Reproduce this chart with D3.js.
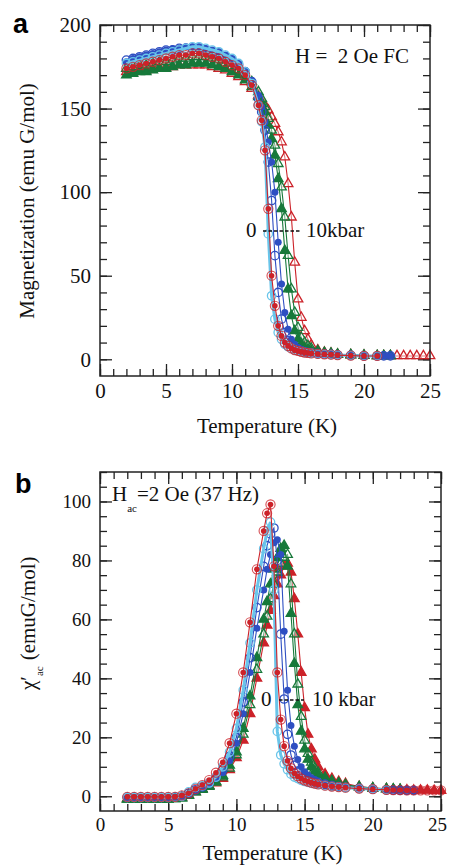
<!DOCTYPE html>
<html>
<head>
<meta charset="utf-8">
<script src="https://cdn.jsdelivr.net/npm/d3@7"></script>
<style>
  body { margin: 0; background: #fff; }
  svg text { font-family: "Liberation Serif", "Times New Roman", serif; }
</style>
</head>
<body>
<div id="chart"></div>
<script>
// temperature grid (K), shared by both panels
const temps = [2,2.5,3,3.5,4,4.5,5,5.5,6,6.5,7,7.5,8,8.5,9,9.5,10,10.5,11,11.5,12,12.25,12.5,12.75,13,13.25,13.5,13.75,14,14.25,14.5,14.75,15,15.25,15.5,15.75,16,16.5,17,17.5,18,19,20,21,21.5,22,22.5,23,23.5,24,24.5,25];

// panel a : FC magnetization (emu G/mol), one array per pressure run
const magLightBlue = [177,178,179,180,181,182,183,184,185,186,187,187,186,185,184,182,180,177,172,165,152,142,127,75,38,24,16,12,9,7.5,6.5,5.5,5,4.5,4,3.8,3.5,3.2,3,2.8,2.5, 2.2,2,2,null,null,null,null,null,null,null,null];
const magRedCirc  = [174,175,176,177,178,179,180,181,182,182,183,183,182,181,180,178,176,174,170,164,152,143,125,90,50,32,20,14,10,8,6.5,5.5,5,4.5,4,3.8,3.5,3.2,3,2.8,2.5, 2.2,2,2,null,null,null,null,null,null,null,null];
const magBlueOpen = [179,180,181,182,183,184,185,185,186,186,186,186,185,184,183,181,179,176,172,166,156,148,137,118,95,62,40,24,16,11,8.5,7,6,5,4.5,4,3.8,3.4,3.1,2.9,2.6, 2.3,2.1,2,2,2,null,null,null,null,null,null];
const magBlueFill = [178,180,181,182,183,184,185,186,186,187,187,187,186,185,184,182,180,177,173,167,158,151,142,130,118,100,70,45,28,18,12,9,7,6,5,4.5,4,3.5,3.2,3,2.7, 2.4,2.2,2,2,2,null,null,null,null,null,null];
const magGreenFill = [170,171,172,172,173,174,174,175,176,176,177,177,177,176,175,174,172,170,167,163,157,153,148,140,132,122,108,90,65,42,26,17,12,9,7,6,5,4,3.5,3.1,2.8, 2.5,2.2,2,2,2,null,null,null,null,null,null];
const magGreenOpen = [174,175,176,176,177,178,178,179,180,180,181,181,181,180,179,177,175,173,170,166,160,156,151,144,137,128,117,103,85,62,42,28,19,13,10,8,6.5,5,4,3.5,3, 2.6,2.3,2.1,2,2,null,null,null,null,null,null];
const magRedTri   = [172,172,173,173,174,174,175,175,176,176,176,176,176,175,174,173,171,169,166,162,158,155,152,149,145,141,136,130,121,105,85,58,36,25,17,12,8.5,5.5,4.2,3.5,3, 2.6,2.3,2.1,2,2,2,2,2,2,2,2];

// panel b : ac susceptibility chi' (emuG/mol)
const chiLightBlue = [-0.4,-0.4,-0.4,-0.4,-0.4,-0.4,-0.4,-0.3,0,1.5,3,3.5,4.5,6.5,10,15,23,36,52,70,84,90,93,70,22,14,11,9,7.5,6.5,6,5.4,5,4.7,4.4,4.2,4,3.6,3.3,3.1,2.9, 2.6,2.4,2.2,null,null,null,null,null,null,null,null];
const chiRedCirc  = [-0.2,-0.2,-0.2,-0.2,-0.2,-0.2,-0.2,-0.2,0.3,1,2.5,3.8,5.5,8,11.5,18,28,42,59,77,90,96,99,78,42,26,17,12,9.5,7.8,6.8,6,5.4,5,4.6,4.3,4,3.6,3.3,3.1,2.9, 2.6,2.4,2.2,2.1,2.1,2,2,2,2,2,2];
const chiBlueOpen = [-0.4,-0.4,-0.4,-0.4,-0.4,-0.4,-0.4,-0.3,0,1,2.2,3.2,4.5,6.5,9,13.5,20,32,47,64,78,85,89,91,80,55,33,21,14,10.5,8.5,7.2,6.3,5.7,5.2,4.8,4.5,4,3.6,3.3,3, 2.7,2.4,2.2,2.1,2,2,2,null,null,null,null];
const chiBlueFill = [-0.5,-0.5,-0.5,-0.5,-0.5,-0.5,-0.5,-0.4,-0.2,0.8,2,3,4,6,8,12,18,28,42,57,70,77,82,86,87,82,56,36,24,17,12.5,10,8.3,7.2,6.3,5.7,5.2,4.5,4,3.6,3.3, 2.8,2.5,2.2,2.1,2,2,1.9,null,null,null,null];
const chiGreenFill = [-1,-1,-1,-1,-1,-1,-1,-0.9,-0.6,0.3,1.5,2.5,3.5,5,7,10.5,15,23,34,47,60,66,72,77,81,84,85,78,62,45,31,22,16,12.5,10,8.5,7.3,5.8,4.8,4.2,3.7, 3.1,2.7,2.4,2.3,2.2,null,null,null,null,null,null];
const chiGreenOpen = [-1,-1,-1,-1,-1,-1,-1,-0.9,-0.6,0.2,1.4,2.3,3.3,4.7,6.5,9.5,14,21,31,43,55,61,67,72,76,79,81,82,72,55,38,27,19,14.5,11.5,9.5,8,6.3,5.2,4.5,3.9, 3.2,2.8,2.5,2.4,2.3,null,null,null,null,null,null];
const chiRedTri   = [-0.8,-0.8,-0.8,-0.8,-0.8,-0.8,-0.8,-0.7,-0.4,0.5,1.5,2.5,3.5,4.5,6,9,13,19,28,40,52,58,63,68,72,75,78,79,76,67,55,42,30,21,16,12.5,10,7.5,6,5,4.3, 3.3,2.8,2.5,2.3,2.2,2.1,2,2,2,1.9,1.9];

const magTicks = [0, 50, 100, 150, 200];
const chiTicks = [0, 20, 40, 60, 80, 100];
const tempTicks = [0, 5, 10, 15, 20, 25];

const red = "#cc2229", blue = "#2e4fc2", green = "#17793a", lightBlue = "#69c5ea";
const serif = "'Liberation Serif', 'Times New Roman', serif";

// drawing order: back to front
const seriesA = [
  { vals: magRedTri,    color: red,       mark: "triOpen" },
  { vals: magGreenOpen, color: green,     mark: "triOpen" },
  { vals: magGreenFill, color: green,     mark: "triFill" },
  { vals: magBlueFill,  color: blue,      mark: "circFill" },
  { vals: magBlueOpen,  color: blue,      mark: "circOpen" },
  { vals: magLightBlue, color: lightBlue, mark: "circOpen", thick: true },
  { vals: magRedCirc,   color: red,       mark: "circDot" }
];
const seriesB = [
  { vals: chiRedTri,    color: red,       mark: "triFill" },
  { vals: chiGreenOpen, color: green,     mark: "triOpen" },
  { vals: chiGreenFill, color: green,     mark: "triFill" },
  { vals: chiBlueFill,  color: blue,      mark: "circFill" },
  { vals: chiBlueOpen,  color: blue,      mark: "circOpen" },
  { vals: chiLightBlue, color: lightBlue, mark: "circOpen", thick: true },
  { vals: chiRedCirc,   color: red,       mark: "circDot" }
];

const svg = d3.select("#chart").append("svg")
  .attr("width", 450)
  .attr("height", 867);

const tri = d3.symbol().type(d3.symbolTriangle).size(40);

function drawPanel(p) {
  const x = d3.scaleLinear().domain([0, 25]).range([p.left, p.right]);
  const y = d3.scaleLinear().domain(p.yDomain).range([p.bottom, p.top]);
  const g = svg.append("g");

  // minor ticks on all four sides
  const minorX = d3.range(0, 26, 1), minorY = d3.range(0, p.yDomain[1] + 0.1, p.yMinor);
  g.append("g").attr("transform", `translate(0,${p.bottom})`)
    .call(d3.axisBottom(x).tickValues(minorX).tickSize(-7).tickFormat(""));
  g.append("g").attr("transform", `translate(0,${p.top})`)
    .call(d3.axisTop(x).tickValues(minorX).tickSize(-7).tickFormat(""));
  g.append("g").attr("transform", `translate(${p.left},0)`)
    .call(d3.axisLeft(y).tickValues(minorY).tickSize(-7).tickFormat(""));
  g.append("g").attr("transform", `translate(${p.right},0)`)
    .call(d3.axisRight(y).tickValues(minorY).tickSize(-7).tickFormat(""));

  // major ticks
  g.append("g").attr("class", "xax").attr("transform", `translate(0,${p.bottom})`)
    .call(d3.axisBottom(x).tickValues(tempTicks).tickSize(-12).tickPadding(7));
  g.append("g").attr("transform", `translate(0,${p.top})`)
    .call(d3.axisTop(x).tickValues(tempTicks).tickSize(-12).tickFormat(""));
  g.append("g").attr("class", "yax").attr("transform", `translate(${p.left},0)`)
    .call(d3.axisLeft(y).tickValues(p.yTicks).tickSize(-12).tickPadding(9));
  g.append("g").attr("transform", `translate(${p.right},0)`)
    .call(d3.axisRight(y).tickValues(p.yTicks).tickSize(-12).tickFormat(""));

  g.selectAll(".domain").remove();
  g.selectAll(".tick line").attr("stroke", "#222").attr("stroke-width", 1.3);
  g.selectAll(".tick text").attr("font-size", p.tickFont).attr("fill", "#111")
    .style("font-family", serif);
  // keep the last x label inside the window
  g.selectAll(".xax .tick text").filter(d => d === 25).attr("dx", p.lastDx);

  // data
  const plot = g.append("g");
  p.series.forEach(s => {
    const pts = temps.map((t, i) => ({ t: t, v: s.vals[i] })).filter(d => d.v !== null);
    const line = d3.line().x(d => x(d.t)).y(d => y(d.v));
    plot.append("path").datum(pts)
      .attr("d", line)
      .attr("fill", "none")
      .attr("stroke", s.color)
      .attr("stroke-width", s.thick ? 3 : 1.1);

    const m = plot.append("g").selectAll("g").data(pts).join("g")
      .attr("transform", d => `translate(${x(d.t)},${y(d.v)})`);
    if (s.mark === "triOpen" || s.mark === "triFill") {
      m.append("path").attr("d", tri)
        .attr("fill", s.mark === "triFill" ? s.color : "#fff")
        .attr("fill-opacity", s.mark === "triFill" ? 1 : 0.4)
        .attr("stroke", s.color).attr("stroke-width", 1.3);
    } else if (s.mark === "circFill") {
      m.append("circle").attr("r", 3.5).attr("fill", s.color);
    } else if (s.mark === "circOpen") {
      m.append("circle").attr("r", 4.2).attr("fill", "none")
        .attr("stroke", s.color).attr("stroke-width", 1.3);
    } else {
      m.append("circle").attr("r", 4.6).attr("fill", "none")
        .attr("stroke", s.color).attr("stroke-width", 1.1).attr("stroke-opacity", 0.8);
      m.append("circle").attr("r", 2.8).attr("fill", s.color);
    }
  });

  // frame
  g.append("rect")
    .attr("x", p.left).attr("y", p.top)
    .attr("width", p.right - p.left).attr("height", p.bottom - p.top)
    .attr("fill", "none").attr("stroke", "#222").attr("stroke-width", 1.5);

  // x title
  g.append("text")
    .attr("x", (p.left + p.right) / 2 + 2).attr("y", p.xTitleY)
    .attr("text-anchor", "middle").attr("font-size", 21).attr("fill", "#111")
    .text("Temperature (K)");

  // panel letter
  g.append("text")
    .attr("x", p.letterX).attr("y", p.letterY)
    .style("font-family", "Liberation Sans, Arial, sans-serif")
    .attr("font-weight", "bold").attr("font-size", 27)
    .text(p.letter);

  // pressure arrow "0 ---- 10 kbar"
  const arr = p.arrow;
  g.append("text").attr("x", arr.x0).attr("y", arr.y).attr("font-size", 21).attr("fill", "#111").text("0");
  g.append("line")
    .attr("x1", arr.l1).attr("x2", arr.l2)
    .attr("y1", arr.y - 6).attr("y2", arr.y - 6)
    .attr("stroke", "#111").attr("stroke-width", 1.6).attr("stroke-dasharray", "3.5,2");
  g.append("text").attr("x", arr.x1).attr("y", arr.y).attr("font-size", 21).attr("fill", "#111").text(arr.label);

  return g;
}

const gA = drawPanel({
  left: 100, right: 430, top: 25, bottom: 376,
  yDomain: [-10, 200], yTicks: magTicks, yMinor: 10,
  tickFont: 21, lastDx: 0,
  series: seriesA, xTitleY: 433,
  letter: "a", letterX: 13, letterY: 33,
  arrow: { x0: 246, l1: 263, l2: 300, x1: 306, y: 237, label: "10kbar" }
});

gA.append("text")
  .attr("x", 295).attr("y", 63).attr("font-size", 21).attr("fill", "#111")
  .attr("xml:space", "preserve").style("white-space", "pre")
  .text("H =  2 Oe FC");

gA.append("text")
  .attr("transform", "translate(34,201) rotate(-90)")
  .attr("text-anchor", "middle").attr("font-size", 21).attr("fill", "#111")
  .text("Magnetization (emu G/mol)");

const gB = drawPanel({
  left: 100, right: 441, top: 472, bottom: 811,
  yDomain: [-5, 110], yTicks: chiTicks, yMinor: 5,
  tickFont: 19, lastDx: -4,
  series: seriesB, xTitleY: 860,
  letter: "b", letterX: 15, letterY: 493,
  arrow: { x0: 261, l1: 279, l2: 304, x1: 312, y: 706, label: "10 kbar" }
});

const hac = gB.append("text")
  .attr("x", 112).attr("y", 501).attr("font-size", 21).attr("fill", "#111");
hac.append("tspan").text("H");
hac.append("tspan").attr("dy", 11).attr("font-size", 11).text("ac");
hac.append("tspan").attr("dy", -11).text("=2 Oe (37 Hz)");

const ylab = gB.append("text")
  .attr("transform", "translate(35,690) rotate(-90)")
  .attr("font-size", 21).attr("fill", "#111");
ylab.append("tspan").text("χ′");
ylab.append("tspan").attr("dy", 8).attr("font-size", 11).text("ac");
ylab.append("tspan").attr("dy", -8).attr("dx", 6).text("(emuG/mol)");
</script>
</body>
</html>
